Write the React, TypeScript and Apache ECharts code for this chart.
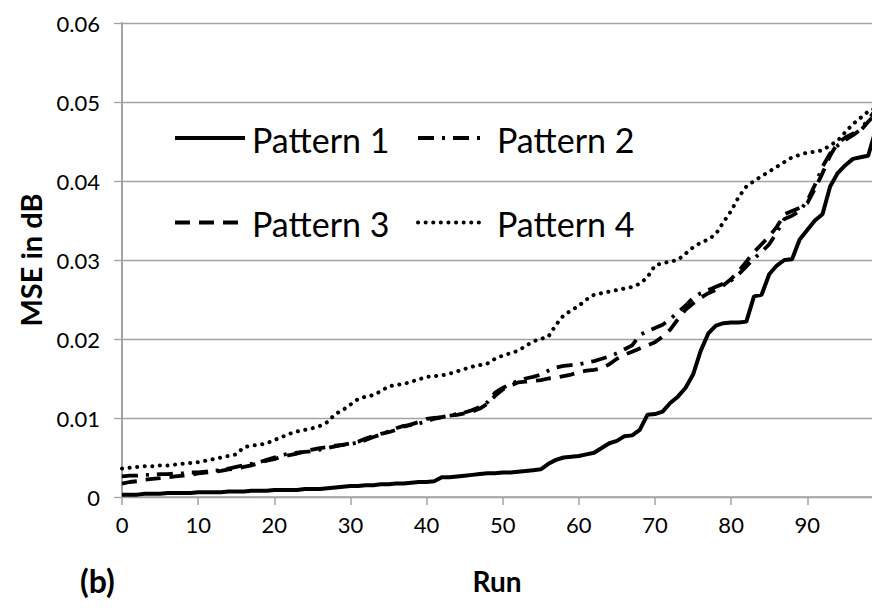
import React, { useEffect, useRef } from "react";
import * as echarts from "echarts";

const runs: number[] = Array.from({ length: 100 }, (_, i) => i);

const seriesNames = ["Pattern 1", "Pattern 2", "Pattern 3", "Pattern 4"];

const pattern1 = [
  0.0003, 0.0003, 0.0003, 0.0004, 0.0004, 0.0004, 0.0005, 0.0005, 0.0005, 0.0005,
  0.0006, 0.0006, 0.0006, 0.0006, 0.0007, 0.0007, 0.0007, 0.0008, 0.0008, 0.0008,
  0.0009, 0.0009, 0.0009, 0.0009, 0.001, 0.001, 0.001, 0.0011, 0.0012, 0.0013,
  0.0014, 0.0014, 0.0015, 0.0015, 0.0016, 0.0016, 0.0017, 0.0017, 0.0018, 0.0019,
  0.0019, 0.002, 0.0025, 0.0025, 0.0026, 0.0027, 0.0028, 0.0029, 0.003, 0.003,
  0.0031, 0.0031, 0.0032, 0.0033, 0.0034, 0.0035, 0.0042, 0.0047, 0.005, 0.0051,
  0.0052, 0.0054, 0.0056, 0.0062, 0.0068, 0.0071, 0.0077, 0.0078, 0.0085, 0.0104,
  0.0105, 0.0108, 0.0119, 0.0127, 0.0138, 0.0155, 0.0185, 0.0207, 0.0217, 0.022,
  0.0221, 0.0221, 0.0222, 0.0254, 0.0256, 0.0282, 0.0293, 0.03, 0.0301, 0.0326,
  0.0338, 0.035, 0.0358, 0.0393, 0.041, 0.042, 0.0428, 0.043, 0.0432, 0.0465,
];

const pattern2 = [
  0.0026, 0.0027, 0.0027, 0.0028, 0.0028, 0.0029, 0.0029, 0.003, 0.003, 0.0031,
  0.0031, 0.0032, 0.0033, 0.0034, 0.0036, 0.0038, 0.004, 0.0042, 0.0044, 0.0047,
  0.005, 0.0053, 0.0055, 0.0056, 0.0057, 0.0058, 0.006, 0.0062, 0.0064, 0.0066,
  0.0067, 0.0069, 0.0072, 0.0076, 0.0079, 0.0083, 0.0087, 0.009, 0.0091, 0.0093,
  0.0096, 0.0099, 0.0101, 0.0103, 0.0105, 0.0107, 0.011, 0.0114, 0.012, 0.0132,
  0.0138, 0.0143, 0.0147, 0.015, 0.0152, 0.0155, 0.016, 0.0164, 0.0166, 0.0167,
  0.0168, 0.017, 0.0172, 0.0175, 0.0178, 0.0182, 0.0187, 0.0192, 0.0205, 0.021,
  0.0214, 0.0218, 0.0225, 0.0234, 0.0242, 0.0252, 0.0258, 0.0262, 0.0266, 0.027,
  0.0274, 0.0282, 0.0292, 0.0302, 0.031, 0.032, 0.0335, 0.0352, 0.0356, 0.0362,
  0.0375, 0.0395, 0.0418, 0.0435, 0.0445, 0.0452, 0.0458, 0.0465, 0.0478, 0.049,
];

const pattern3 = [
  0.0017, 0.0019, 0.002, 0.0022, 0.0023, 0.0024, 0.0025, 0.0026, 0.0027, 0.0028,
  0.003, 0.0031, 0.0032, 0.0033, 0.0035, 0.0036, 0.0038, 0.004, 0.0043, 0.0046,
  0.0048, 0.0051, 0.0053, 0.0055, 0.0058, 0.006, 0.0062, 0.0063, 0.0065, 0.0066,
  0.0068, 0.007, 0.0074, 0.0077, 0.008, 0.0082, 0.0085, 0.0089, 0.0092, 0.0095,
  0.0099, 0.01, 0.0101, 0.0103, 0.0104, 0.0106, 0.0108, 0.0112, 0.0118, 0.0128,
  0.0136, 0.0141, 0.0145, 0.0146, 0.0147, 0.0148, 0.015, 0.0151, 0.0153, 0.0155,
  0.0158, 0.016, 0.0161, 0.0163, 0.0168, 0.0175, 0.018, 0.0184, 0.0188, 0.0192,
  0.0196, 0.0203, 0.0212, 0.0225, 0.0237, 0.0245, 0.0252, 0.0258, 0.0262, 0.0268,
  0.0276, 0.0286, 0.0298, 0.031, 0.032, 0.033, 0.0342, 0.0358, 0.0362, 0.0366,
  0.0372, 0.039, 0.041, 0.0432, 0.0448, 0.0455, 0.046, 0.0464, 0.0475, 0.0485,
];

const pattern4 = [
  0.0036, 0.0037, 0.0038, 0.0039, 0.0039, 0.004, 0.004, 0.0041, 0.0042, 0.0043,
  0.0044, 0.0046, 0.0048, 0.005, 0.0052, 0.0054, 0.0063, 0.0065, 0.0066, 0.0068,
  0.0072, 0.0076, 0.008, 0.0083, 0.0085, 0.0087, 0.009, 0.0095, 0.0105, 0.011,
  0.0117, 0.0124, 0.0127, 0.0129, 0.0134, 0.014, 0.0142, 0.0143, 0.0146, 0.0149,
  0.0152, 0.0153, 0.0154, 0.0156, 0.0159, 0.0162, 0.0165, 0.0167, 0.0169, 0.0175,
  0.0179, 0.0182, 0.0185, 0.0191, 0.0197, 0.02, 0.0203, 0.0218, 0.023, 0.0236,
  0.0242, 0.025, 0.0256, 0.0258, 0.026, 0.0262, 0.0264, 0.0266, 0.027, 0.0278,
  0.0293, 0.0296, 0.0298, 0.03, 0.0308, 0.0316, 0.0322, 0.0326, 0.0333, 0.0348,
  0.0362, 0.038, 0.0393, 0.04, 0.0406, 0.0412, 0.0418, 0.0424, 0.043, 0.0433,
  0.0436, 0.0437, 0.0439, 0.0445, 0.0451, 0.0462, 0.0472, 0.048, 0.0488, 0.0492,
];

const yTicks = [0, 0.01, 0.02, 0.03, 0.04, 0.05, 0.06];
const xTicks = [0, 10, 20, 30, 40, 50, 60, 70, 80, 90];

const FONT = "Lato, 'Open Sans', sans-serif";
const GRID_COLOR = "#a3a3a3";

const DASHES: (number[] | null)[] = [null, [16, 8, 3, 8], [15, 9], [0.1, 7.5]];
const WIDTHS = [4, 3.8, 3.8, 4];
const CAPS = ["butt", "butt", "butt", "round"];

export default function App() {
  const ref = useRef<HTMLDivElement>(null);

  useEffect(() => {
    if (!ref.current) return;
    const chart = echarts.init(ref.current, undefined, { renderer: "svg" });

    const mk = (vals: number[]) => runs.map((r, i) => [r, vals[i]]);
    const allData = [pattern1, pattern2, pattern3, pattern4];

    // legend drawn as graphic: 2 x 2 layout
    const legendPos = [
      { lx: 175, tx: 252, y: 138 },
      { lx: 418, tx: 497, y: 138 },
      { lx: 175, tx: 252, y: 222.5 },
      { lx: 418, tx: 497, y: 222.5 },
    ];
    const legendLen = [70, 64, 70, 64];
    const legendGraphics: any[] = [];
    seriesNames.forEach((name, k) => {
      const p = legendPos[k];
      legendGraphics.push({
        type: "line",
        silent: true,
        shape: { x1: p.lx, y1: p.y, x2: p.lx + legendLen[k], y2: p.y },
        style: {
          stroke: "#000",
          lineWidth: WIDTHS[k],
          lineDash: DASHES[k] || undefined,
          lineCap: CAPS[k],
        },
        z: 100,
      });
      legendGraphics.push({
        type: "text",
        silent: true,
        x: p.tx,
        y: p.y + 1,
        style: {
          text: name,
          fontSize: 34,
          fontFamily: FONT,
          fill: "#000",
          verticalAlign: "middle",
          align: "left",
        },
        z: 100,
      });
    });

    chart.setOption({
      animation: false,
      backgroundColor: "#fff",
      grid: { left: 122, top: 23, right: 0, bottom: 111, containLabel: false },
      xAxis: {
        type: "value",
        min: xTicks[0],
        max: 98.5,
        interval: 10,
        name: "Run",
        nameLocation: "middle",
        nameGap: 70,
        nameTextStyle: { fontSize: 28, fontWeight: "bold", fontFamily: FONT, color: "#000" },
        axisLine: { show: true, onZero: false, lineStyle: { color: GRID_COLOR, width: 1.5 } },
        axisTick: { show: true, length: 8, lineStyle: { color: GRID_COLOR, width: 1.5 } },
        axisLabel: {
          showMaxLabel: false,
          margin: 16,
          fontSize: 22,
          fontFamily: FONT,
          color: "#000",
          formatter: (v: number) => (xTicks.includes(v) ? String(v) : ""),
        },
        splitLine: { show: false },
      },
      yAxis: {
        type: "value",
        min: yTicks[0],
        max: yTicks[yTicks.length - 1],
        interval: 0.01,
        name: "MSE in dB",
        nameLocation: "middle",
        nameGap: 77,
        nameRotate: 90,
        nameTextStyle: { fontSize: 29, fontWeight: "bold", fontFamily: FONT, color: "#000" },
        axisLine: { show: true, lineStyle: { color: GRID_COLOR, width: 2 } },
        axisTick: { show: true, length: 8, lineStyle: { color: GRID_COLOR, width: 1.3 } },
        axisLabel: {
          margin: 22,
          fontSize: 22,
          fontFamily: FONT,
          color: "#000",
          formatter: (v: number) => (v === 0 ? "0" : v.toFixed(2)),
        },
        splitLine: { show: true, lineStyle: { color: GRID_COLOR, width: 1.3 } },
      },
      graphic: [
        {
          type: "text",
          left: 80,
          top: 564,
          style: { text: "(b)", fontSize: 32, fontWeight: "bold", fontFamily: FONT, fill: "#000" },
        },
        ...legendGraphics,
      ],
      series: seriesNames.map((name, k) => ({
        name,
        type: "line",
        data: mk(allData[k]),
        symbol: "none",
        showSymbol: false,
        clip: true,
        silent: true,
        lineStyle: {
          color: "#000",
          width: WIDTHS[k],
          type: DASHES[k] || "solid",
          cap: CAPS[k],
        },
        itemStyle: { color: "#000" },
        emphasis: { disabled: true },
        z: 10 - k,
      })),
    });

    return () => chart.dispose();
  }, []);

  return (
    <div
      ref={ref}
      style={{ position: "absolute", left: 0, top: 0, width: 872, height: 608 }}
    />
  );
}
